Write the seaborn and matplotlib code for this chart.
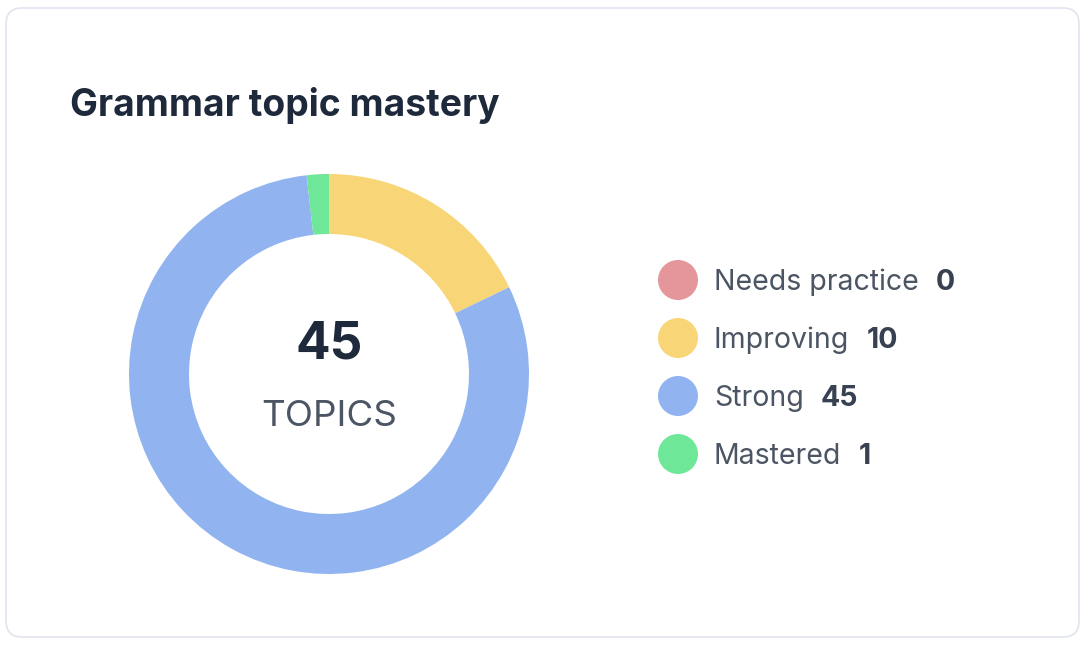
import matplotlib
matplotlib.use("Agg")
import numpy as np
import seaborn as sns
from matplotlib import pyplot as plt
from matplotlib.patches import FancyBboxPatch

# --- data ---
categories = ["Needs practice", "Improving", "Strong", "Mastered"]
counts = [0, 10, 45, 1]
colors = ["#e4969a", "#f8d678", "#91b4f0", "#6ee898"]
title = "Grammar topic mastery"
center_value = "45"
center_label = "TOPICS"

W, H = 1088, 646
DARK = "#1e293b"
GRAY = "#4b5563"

sns.set_theme(style="white")
plt.rcParams["font.family"] = ["Inter", "DejaVu Sans"]

fig = plt.figure(figsize=(W / 100, H / 100), dpi=100)
fig.patch.set_facecolor("white")

# background axes in pixel coordinates (y down)
bg = fig.add_axes([0, 0, 1, 1])
bg.set_xlim(0, W)
bg.set_ylim(H, 0)
bg.axis("off")

card = FancyBboxPatch((6, 8), 1073, 629, boxstyle="round,pad=0,rounding_size=16",
                      facecolor="white", edgecolor="#e0e4ed", linewidth=1.2)
bg.add_patch(card)

bg.text(70, 116, title, fontsize=26.8, fontweight="bold", color=DARK, va="baseline")

# --- donut ---
cx, cy, r = 329, 374, 200
pie_ax = fig.add_axes([(cx - r) / W, (H - cy - r) / H, 2 * r / W, 2 * r / H])
pie_ax.pie(counts, colors=colors, startangle=90, counterclock=False, radius=1,
           wedgeprops=dict(width=0.3, linewidth=0))
pie_ax.set_xlim(-1, 1)
pie_ax.set_ylim(-1, 1)
pie_ax.axis("off")

pie_ax.text(0, 0.145, center_value, fontsize=37, fontweight="bold", color=DARK,
            ha="center", va="center")
pie_ax.text(0, -0.215, center_label, fontsize=26.5, color=GRAY,
            ha="center", va="center")

# --- legend ---
leg_y = [280 + 58 * i for i in range(len(categories))]
sns.scatterplot(x=[678] * len(categories), y=leg_y, hue=categories, palette=colors,
                s=830, linewidth=0, legend=False, ax=bg, zorder=3)

renderer = fig.canvas.get_renderer()
for name, val, y in zip(categories, counts, leg_y):
    t = bg.text(714, y + 2.5, name, fontsize=20.5, color=GRAY, va="center")
    bb = t.get_window_extent(renderer=renderer)
    bg.text(bb.x1 + 17, y + 2.5, str(val), fontsize=20.5, fontweight="bold",
            color="#374151", va="center")

fig.savefig("out.png", dpi=100, facecolor="white")
